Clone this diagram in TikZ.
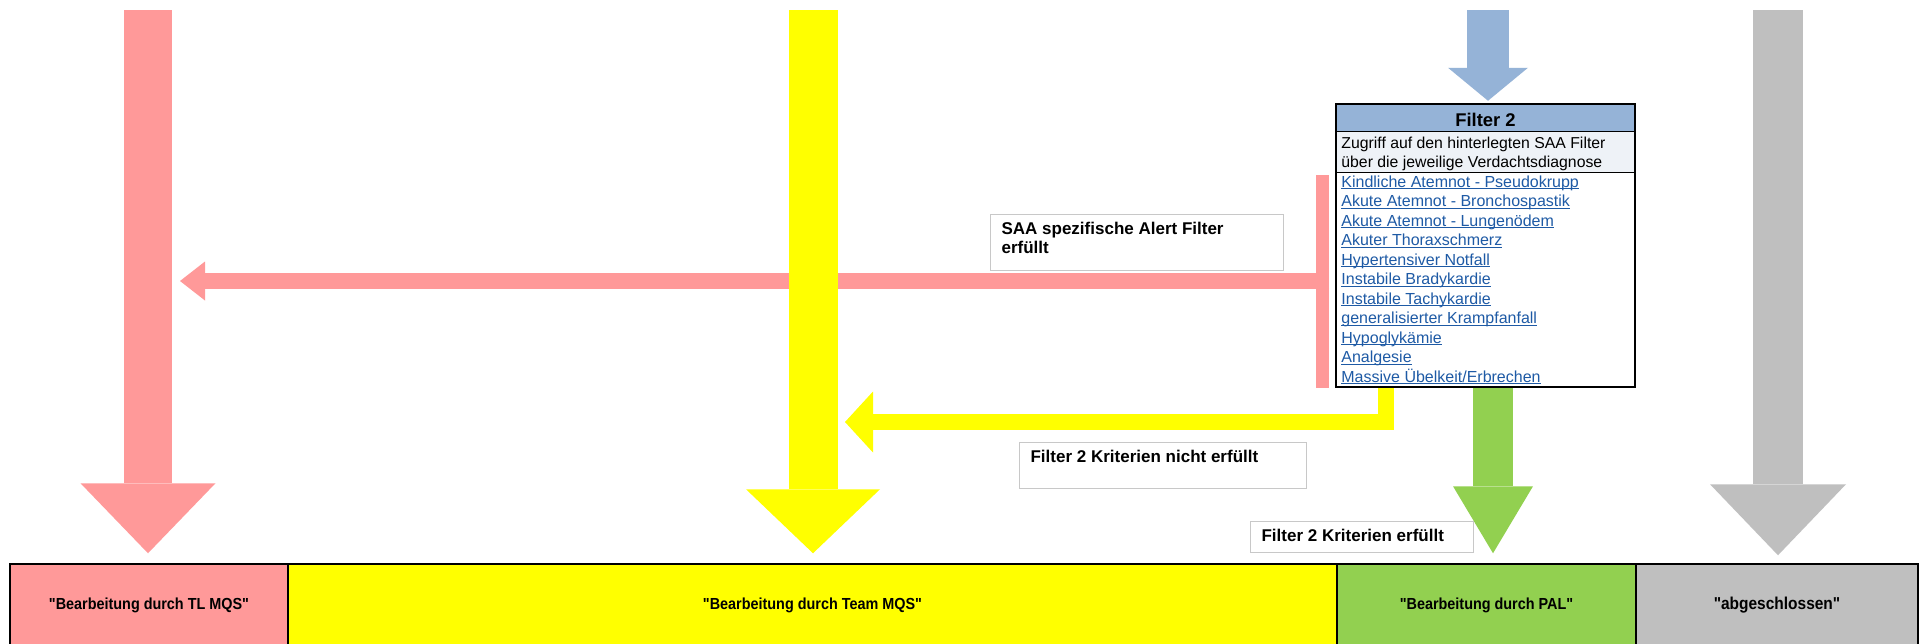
\documentclass[tikz,border=0pt]{standalone}
\usepackage{fontspec}
\setmainfont{Liberation Sans}
\newfontfamily\narrowf[FakeStretch=0.9]{Liberation Sans}
\usetikzlibrary{arrows.meta}
\definecolor{pinkc}{RGB}{255,153,153}
\definecolor{yellowc}{RGB}{255,255,0}
\definecolor{greenc}{RGB}{146,208,80}
\definecolor{grayc}{RGB}{191,191,191}
\definecolor{bluec}{RGB}{149,179,215}
\definecolor{descc}{RGB}{238,242,247}
\definecolor{linkc}{RGB}{30,90,165}
\definecolor{lblborder}{RGB}{200,200,200}
\newcommand\mylink[1]{\setbox0=\hbox{#1}\rlap{\rule[-1.2pt]{\wd0}{0.5pt}}\box0}
\tikzset{
  cell/.style={draw=black, line width=0.75pt, inner sep=0pt, minimum height=41.5pt,
    font=\narrowf\bfseries\fontsize{8}{9.6}\selectfont},
  lbl/.style={draw=lblborder, fill=white, line width=0.6pt, anchor=north west,
    inner xsep=5.5pt, inner ysep=0pt, font=\bfseries\fontsize{8.5}{9.5}\selectfont},
  lnk/.style={anchor=base west, inner sep=0pt, text=linkc, font=\fontsize{8}{9.6}\selectfont},
  desc/.style={anchor=base west, inner sep=0pt, font=\fontsize{7.9}{9.6}\selectfont},
  barrow/.style n args={3}{line width=#1, -{Triangle[width=#2,length=#3,line width=0pt]}}
}
\begin{document}
\begin{tikzpicture}[x=0.5pt,y=-0.5pt]
\useasboundingbox (0,0) rectangle (1923,643);
\fill[white] (0,0) rectangle (1923,643);
% bottom status cells
\node[cell, fill=pinkc, minimum width=139pt] (c1) at (149,605.5) {"Bearbeitung durch TL MQS"};
\node[cell, fill=yellowc, minimum width=524.5pt] (c2) at (812.5,605.5) {"Bearbeitung durch Team MQS"};
\node[cell, fill=greenc, minimum width=149.5pt] (c3) at (1486.5,605.5) {"Bearbeitung durch PAL"};
\node[cell, fill=grayc, minimum width=141pt, font=\narrowf\bfseries\fontsize{8.6}{10}\selectfont] (c4) at (1777,605.5) {"abgeschlossen"};
% filter 2 box
\fill[bluec] (1336,104) rectangle (1635,131);
\fill[descc] (1336,131) rectangle (1635,172);
\draw[line width=0.5pt] (1336,131) -- (1635,131) (1336,172) -- (1635,172);
\node[draw=black, line width=1.25pt, minimum width=149.5pt, minimum height=141.5pt, inner sep=0pt] (f2) at (1485.5,245.5) {};
\node[anchor=base, inner sep=0pt, font=\bfseries\fontsize{9.2}{10}\selectfont] (f2t) at (1485.5,126) {Filter 2};
\node[desc] (d1) at (1341,148) {Zugriff auf den hinterlegten SAA Filter};
\node[desc] (d2) at (1341,167) {über die jeweilige Verdachtsdiagnose};
\foreach \itm [count=\i from 0] in {Kindliche Atemnot - Pseudokrupp, Akute Atemnot - Bronchospastik, Akute Atemnot - Lungenödem, Akuter Thoraxschmerz, Hypertensiver Notfall, Instabile Bradykardie, Instabile Tachykardie, generalisierter Krampfanfall, Hypoglykämie, Analgesie, Massive Übelkeit/Erbrechen}
  \node[lnk] (l\i) at (1341,{187+19.5*\i}) {\mylink{\itm}};
% pink branch
\fill[pinkc] (1316,175) rectangle (1329,388);
\coordinate (pjoin) at (1329,281);
\coordinate (ptip) at (180,281);
\draw[pinkc, barrow={8pt}{19.5pt}{12.5pt}] (pjoin) -- (ptip);
% yellow branch
\coordinate (ystem) at (1386,0);
\coordinate (ytip) at (845,422);
\draw[yellowc, barrow={8pt}{30.5pt}{14pt}] (f2.south -| ystem) |- (ytip);
% vertical block arrows
\coordinate (ptop) at (148,10);
\draw[pinkc, barrow={24pt}{67.5pt}{35pt}, shorten >=5pt] (ptop) -- (ptop |- c1.north);
\coordinate (ytop) at (813,10);
\draw[yellowc, barrow={24.5pt}{67pt}{32pt}, shorten >=5pt] (ytop) -- (ytop |- c2.north);
\coordinate (btop) at (1488,10);
\draw[bluec, barrow={21pt}{40pt}{16.5pt}, shorten >=1pt] (btop) -- (btop |- f2.north);
\coordinate (gtop) at (1778,10);
\draw[grayc, barrow={25pt}{68pt}{35.5pt}, shorten >=4pt] (gtop) -- (gtop |- c4.north);
\coordinate (gx) at (1493,0);
\draw[greenc, barrow={20pt}{40pt}{33.5pt}, shorten >=5pt] (f2.south -| gx) -- (c3.north -| gx);
% labels
\node[lbl, text height=10pt, text depth=18pt] (saa) at (990,214)
  {\vtop{\baselineskip=9.5pt\hbox to 135.5pt{SAA spezifische Alert Filter\hfil}\hbox{erfüllt}}};
\node[lbl, text height=10pt, text depth=13pt] (nicht) at (1019,442)
  {\hbox to 132.5pt{Filter 2 Kriterien nicht erfüllt\hfil}};
\node[lbl, text height=10pt, text depth=5.5pt] (erf) at (1250,521)
  {\hbox to 100.5pt{Filter 2 Kriterien erfüllt\hfil}};
\end{tikzpicture}
\end{document}
